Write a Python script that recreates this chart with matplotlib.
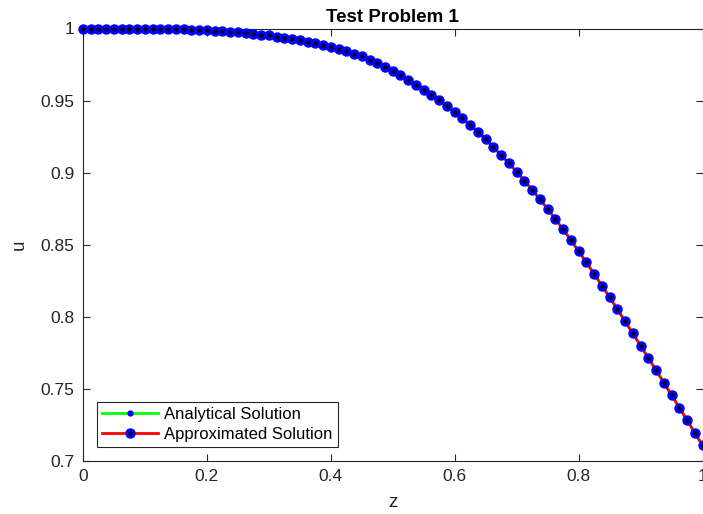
import matplotlib
matplotlib.use("Agg")
import matplotlib.pyplot as plt
from matplotlib.legend_handler import HandlerTuple
import numpy as np

plt.rcParams["font.family"] = ["Liberation Sans", "DejaVu Sans"]

# z grid: 81 nodes on [0, 1]
z = np.linspace(0.0, 1.0, 81)

# u values (analytical and approximated coincide)
u_analytical = [
    1.0000, 1.0000, 1.0000, 1.0000, 1.0000, 1.0000, 1.0000, 0.9999, 0.9999, 0.9998,
    0.9998, 0.9997, 0.9995, 0.9994, 0.9992, 0.9990, 0.9988, 0.9985, 0.9982, 0.9978,
    0.9974, 0.9969, 0.9964, 0.9958, 0.9952, 0.9944, 0.9937, 0.9928, 0.9918, 0.9908,
    0.9897, 0.9884, 0.9871, 0.9857, 0.9842, 0.9826, 0.9808, 0.9784, 0.9758, 0.9731,
    0.9703, 0.9674, 0.9642, 0.9610, 0.9576, 0.9540, 0.9502, 0.9462, 0.9421, 0.9377,
    0.9331, 0.9282, 0.9231, 0.9177, 0.9122, 0.9065, 0.9006, 0.8944, 0.8881, 0.8816,
    0.8748, 0.8678, 0.8606, 0.8532, 0.8456, 0.8377, 0.8298, 0.8217, 0.8136, 0.8053,
    0.7969, 0.7885, 0.7801, 0.7715, 0.7630, 0.7544, 0.7458, 0.7371, 0.7284, 0.7196,
    0.7108,
]
u_approx = list(u_analytical)

x_ticks = [0, 0.2, 0.4, 0.6, 0.8, 1]
x_ticklabels = ["0", "0.2", "0.4", "0.6", "0.8", "1"]
y_ticks = [0.7, 0.75, 0.8, 0.85, 0.9, 0.95, 1]
y_ticklabels = ["0.7", "0.75", "0.8", "0.85", "0.9", "0.95", "1"]

axis_col = "#262626"

fig = plt.figure(figsize=(7.03, 5.14), dpi=100)
ax = fig.add_axes([83 / 703, 1 - 461 / 514, 619.5 / 703, (461 - 28.5) / 514])

# analytical: green line with small blue dots
l_an, = ax.plot(z, u_analytical, color="#00ff00", lw=2, marker=".", ms=7,
                mfc="blue", mec="blue", zorder=2, clip_on=False)
# approximated: red line with big blue circles, black centre
l_ap, = ax.plot(z, u_approx, color="red", lw=2, marker="o", ms=6.5,
                mfc="blue", mec="blue", zorder=3, clip_on=False)
l_c, = ax.plot(z, u_approx, ls="none", marker="o", ms=2,
               mfc="black", mec="black", zorder=4, clip_on=False)

ax.set_xlim(0, 1)
ax.set_ylim(0.7, 1)
ax.set_xticks(x_ticks)
ax.set_xticklabels(x_ticklabels)
ax.set_yticks(y_ticks)
ax.set_yticklabels(y_ticklabels)
ax.tick_params(direction="in", length=5, width=0.8, colors=axis_col,
               labelsize=12.5, top=True, right=True, pad=6)
for t in ax.get_xticklabels() + ax.get_yticklabels():
    t.set_color(axis_col)
for spine in ax.spines.values():
    spine.set_color(axis_col)
    spine.set_linewidth(0.8)

ax.set_title("Test Problem 1", fontsize=13.5, fontweight="bold", pad=5)
ax.set_xlabel("z", fontsize=13.5, color=axis_col, labelpad=7)
ax.set_ylabel("u", fontsize=13.5, color=axis_col, labelpad=9)

leg = ax.legend([l_an, (l_ap, l_c)], ["Analytical Solution", "Approximated Solution"],
                handler_map={tuple: HandlerTuple(ndivide=1)},
                loc="lower left", bbox_to_anchor=(0.022, 0.032), fontsize=12,
                frameon=True, fancybox=False, framealpha=1, handlelength=3.4,
                borderpad=0.3, labelspacing=0.3, handletextpad=0.35,
                borderaxespad=0)
leg.get_frame().set_edgecolor(axis_col)
leg.get_frame().set_linewidth(0.8)

fig.savefig("out.png", dpi=100, facecolor="white")
